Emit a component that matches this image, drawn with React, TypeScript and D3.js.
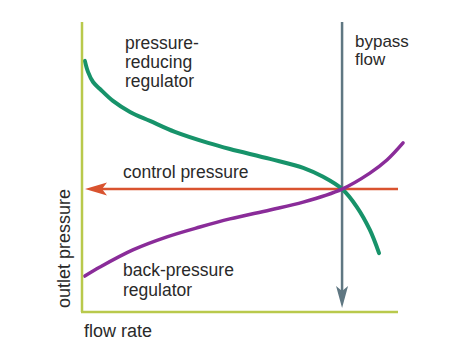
import React from "react";
import * as d3 from "d3";

// Flow rate (x) vs outlet pressure (y), arbitrary 0-100 units
const reducingX = [0.9, 1.9, 3.5, 5.7, 9.8, 15.2, 21.5, 29.4, 39.9, 46.8, 59.5, 70.0, 76.3, 82.3, 87.0, 91.1, 94.0];
const reducingY = [86.6, 82.8, 79.3, 76.9, 72.8, 69.0, 65.9, 62.1, 58.3, 56.2, 52.8, 49.7, 46.6, 42.4, 36.2, 28.3, 20.3];
const backX = [0.9, 5.7, 16.1, 26.9, 37.3, 46.8, 59.5, 70.0, 82.3, 91.1, 96.5, 101.6];
const backY = [12.4, 15.5, 21.4, 25.9, 29.3, 32.1, 35.2, 37.9, 42.4, 47.9, 52.4, 58.3];
const controlPressure = 42.4;
const bypassFlow = 82.3;
const xDomain = [0, 100];
const yDomain = [0, 100];

const labelsReducing = ["pressure-", "reducing", "regulator"];
const labelsBack = ["back-pressure", "regulator"];
const labelsBypass = ["bypass", "flow"];

export default function App() {
  const W = 461, H = 356;
  const x = d3.scaleLinear().domain(xDomain).range([82, 398]);
  const y = d3.scaleLinear().domain(yDomain).range([312, 22]);
  const line = d3.line<[number, number]>().x(d => x(d[0])).y(d => y(d[1])).curve(d3.curveCatmullRom.alpha(0.5));
  const green = line(reducingX.map((v, i) => [v, reducingY[i]]));
  const purple = line(backX.map((v, i) => [v, backY[i]]));

  const cy = y(controlPressure);
  const bx = x(bypassFlow);
  const redTipX = x(0) + 3;
  const grayTipY = y(0) - 4;
  const font = "'Liberation Sans', Arial, Helvetica, sans-serif";
  const txt = "#2a2a2a";

  return (
    <svg width={W} height={H} style={{ position: "absolute", left: 0, top: 0, background: "#fff" }} fontFamily={font}>
      {/* bypass flow line */}
      <line x1={bx} x2={bx} y1={y(100)} y2={grayTipY - 16} stroke="#5f7782" strokeWidth={2.5} />
      <path d={`M${bx},${grayTipY} L${bx - 6},${grayTipY - 22} L${bx},${grayTipY - 17} L${bx + 6},${grayTipY - 22} Z`} fill="#5f7782" />
      {/* control pressure line */}
      <line x1={redTipX + 16} x2={x(100)} y1={cy} y2={cy} stroke="#d9532f" strokeWidth={2.5} />
      <path d={`M${redTipX},${cy} L${redTipX + 22},${cy - 6.5} L${redTipX + 17},${cy} L${redTipX + 22},${cy + 6.5} Z`} fill="#d9532f" />
      {/* curves */}
      <path d={green || ""} fill="none" stroke="#17936a" strokeWidth={4} strokeLinecap="round" />
      <path d={purple || ""} fill="none" stroke="#8a2c99" strokeWidth={3.5} strokeLinecap="round" />
      {/* axes */}
      <line x1={x(0)} x2={x(0)} y1={y(100)} y2={y(0)} stroke="#b9c94c" strokeWidth={2.5} />
      <line x1={x(0) - 1} x2={x(100)} y1={y(0)} y2={y(0)} stroke="#b9c94c" strokeWidth={2.5} />
      {/* labels */}
      <text fontSize={17.5} fill={txt}>
        {labelsReducing.map((t, i) => (
          <tspan key={t} x={125} y={49 + i * 19}>{t}</tspan>
        ))}
      </text>
      <text fontSize={17} fill={txt}>
        {labelsBypass.map((t, i) => (
          <tspan key={t} x={355} y={47 + i * 18}>{t}</tspan>
        ))}
      </text>
      <text x={123} y={178} fontSize={17.5} fill={txt}>control pressure</text>
      <text fontSize={17.5} fill={txt}>
        {labelsBack.map((t, i) => (
          <tspan key={t} x={123} y={276 + i * 20}>{t}</tspan>
        ))}
      </text>
      <text x={84} y={337} fontSize={18} fill={txt}>flow rate</text>
      <text transform="translate(70,308) rotate(-90)" fontSize={18} fill={txt}>outlet pressure</text>
    </svg>
  );
}
